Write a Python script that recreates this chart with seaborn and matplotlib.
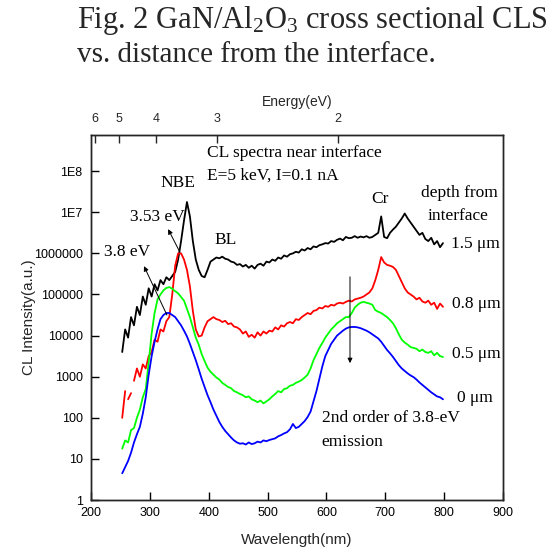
import numpy as np
import pandas as pd
import matplotlib
matplotlib.use("Agg")
import matplotlib.pyplot as plt
import seaborn as sns

# Wavelength grid of the recorded spectra (nm)
wavelength_nm = np.arange(253, 800, 5)

# log10 of CL intensity (a.u.) for each depth from the GaN/Al2O3 interface
log10_cl_1p5um = [
    3.6, 4.15, 3.95, 4.45, 4.25, 4.7, 4.5, 4.95, 4.75, 5.15,
    4.95, 5.25, 5.1, 5.35, 5.25, 5.42, 5.35, 5.45, 5.55, 5.85,
    6.3, 6.8, 7.25, 6.9, 6.3, 5.85, 5.6, 5.45, 5.42, 5.6,
    5.8, 5.85, 5.9, 5.88, 5.92, 5.87, 5.85, 5.8, 5.78, 5.72,
    5.74, 5.68, 5.72, 5.65, 5.7, 5.63, 5.72, 5.75, 5.7, 5.8,
    5.78, 5.85, 5.82, 5.9, 5.87, 5.95, 5.92, 5.98, 6.0, 6.04,
    6.02, 6.1, 6.07, 6.13, 6.1, 6.17, 6.15, 6.2, 6.22, 6.25,
    6.24, 6.3, 6.28, 6.33, 6.36, 6.32, 6.4, 6.37, 6.38, 6.42,
    6.38, 6.41, 6.39, 6.42, 6.38, 6.4, 6.45, 6.5, 6.9, 6.4,
    6.37, 6.5, 6.58, 6.65, 6.75, 6.85, 6.97, 6.85, 6.75, 6.65,
    6.55, 6.45, 6.5, 6.35, 6.3, 6.38, 6.22, 6.3, 6.15, 6.25,
]
log10_cl_0p8um = [
    2.0, 2.65, 2.45, 2.6, 2.9, 3.2, 3.0, 3.3, 3.2, 3.5,
    3.6, 3.9, 3.85, 4.15, 4.1, 4.35, 4.45, 5.0, 5.7, 6.0,
    6.0, 5.85, 5.6, 5.2, 4.6, 4.15, 3.98, 4.0, 4.2, 4.35,
    4.4, 4.45, 4.4, 4.38, 4.33, 4.36, 4.28, 4.3, 4.22, 4.2,
    4.15, 4.05, 4.1, 3.97, 4.02, 3.95, 4.08, 4.0, 4.1, 4.05,
    4.12, 4.1, 4.2, 4.15, 4.25, 4.22, 4.3, 4.33, 4.3, 4.4,
    4.38, 4.45, 4.5, 4.55, 4.52, 4.6, 4.62, 4.68, 4.66, 4.72,
    4.7, 4.75, 4.73, 4.78, 4.8, 4.78, 4.82, 4.85, 4.83, 4.88,
    4.9, 4.92, 4.95, 5.0, 5.05, 5.15, 5.35, 5.6, 5.91, 5.78,
    5.72, 5.7, 5.67, 5.6, 5.45, 5.3, 5.15, 5.05, 5.0, 4.95,
    4.88, 4.92, 4.83, 4.8, 4.85, 4.75, 4.8, 4.65, 4.78, 4.7,
]
log10_cl_0p5um = [
    1.25, 1.45, 1.4, 1.7, 1.75, 2.0, 2.2, 2.5, 2.7, 3.35,
    4.05, 4.55, 4.88, 5.0, 5.1, 5.16, 5.18, 5.14, 5.08, 5.03,
    4.94, 4.85, 4.65, 4.45, 4.2, 3.95, 3.78, 3.55, 3.38, 3.22,
    3.12, 3.05, 2.98, 2.93, 2.85, 2.8, 2.75, 2.72, 2.65, 2.62,
    2.58, 2.55, 2.5, 2.52, 2.45, 2.42, 2.38, 2.42, 2.35, 2.4,
    2.45, 2.52, 2.58, 2.65, 2.62, 2.7, 2.72, 2.78, 2.8, 2.85,
    2.88, 2.92, 2.98, 3.05, 3.2, 3.4, 3.55, 3.7, 3.82, 3.95,
    4.05, 4.15, 4.22, 4.3, 4.35, 4.4, 4.45, 4.45, 4.55, 4.68,
    4.75, 4.8, 4.82, 4.8, 4.78, 4.75, 4.62, 4.58, 4.55, 4.5,
    4.45, 4.38, 4.3, 4.18, 4.03, 3.9, 3.83, 3.78, 3.72, 3.7,
    3.68, 3.62, 3.66, 3.6, 3.58, 3.62, 3.52, 3.58, 3.5, 3.48,
]
log10_cl_0um = [
    0.65, 0.8, 0.95, 1.15, 1.4, 1.6, 1.78, 2.1, 2.5, 3.05,
    3.5, 3.85, 4.15, 4.4, 4.5, 4.55, 4.55, 4.5, 4.45, 4.35,
    4.25, 4.12, 3.98, 3.8, 3.6, 3.4, 3.18, 2.95, 2.75, 2.55,
    2.38, 2.2, 2.05, 1.9, 1.78, 1.68, 1.6, 1.52, 1.45, 1.4,
    1.37, 1.38, 1.35, 1.4, 1.36, 1.38, 1.42, 1.4, 1.45, 1.43,
    1.46, 1.48, 1.5, 1.55, 1.58, 1.62, 1.65, 1.72, 1.85, 1.75,
    1.78, 1.85, 1.92, 2.02, 2.15, 2.4, 2.65, 2.95, 3.25, 3.5,
    3.65, 3.8, 3.9, 4.0, 4.06, 4.12, 4.17, 4.2, 4.21, 4.21,
    4.2, 4.18, 4.15, 4.12, 4.08, 4.03, 3.98, 3.93, 3.85, 3.75,
    3.65, 3.57, 3.48, 3.38, 3.28, 3.2, 3.14, 3.08, 3.03, 2.99,
    2.93, 2.86, 2.8, 2.74, 2.68, 2.62, 2.57, 2.52, 2.5, 2.45,
]

depth_labels = ["1.5 \u03bcm", "0.8 \u03bcm", "0.5 \u03bcm", "0 \u03bcm"]
depth_colors = ["#000000", "#ff0000", "#00ff00", "#0000ff"]
# missing readings split the 0.8 um trace near the short-wavelength end (nm)
red_gaps_nm = [260, 270]

energy_ticks_ev = [6, 5, 4, 3, 2]
intensity_ticks = [1, 10, 100, 1000, 10000, 100000, 1000000, 1e7, 1e8]
intensity_tick_labels = ["1", "10", "100", "1000", "10000", "100000",
                         "1000000", "1E7", "1E8"]

# ---------------------------------------------------------------- data frame
frames = []
for label, logs in zip(depth_labels,
                       [log10_cl_1p5um, log10_cl_0p8um,
                        log10_cl_0p5um, log10_cl_0um]):
    seg = np.zeros(len(wavelength_nm), dtype=int)
    if label.startswith("0.8"):
        seg = np.searchsorted(red_gaps_nm, wavelength_nm)
    frames.append(pd.DataFrame({
        "wavelength": wavelength_nm,
        "intensity": 10 ** np.asarray(logs),
        "depth": label,
        "segment": seg,
    }))
spectra = pd.DataFrame(pd.concat(frames, ignore_index=True))

# ---------------------------------------------------------------- styling
sns.set_style("ticks")
plt.rcParams["font.family"] = ["Liberation Sans", "DejaVu Sans"]
plt.rcParams["mathtext.fontset"] = "custom"
plt.rcParams["mathtext.rm"] = "Liberation Serif"
plt.rcParams["mathtext.it"] = "Liberation Serif:italic"
serif = ["Liberation Serif", "DejaVu Serif"]

fig = plt.figure(figsize=(5.57, 5.52), dpi=100)
ax = fig.add_axes([0.1634, 0.0942, 0.7397, 0.6612])

sns.lineplot(data=spectra, x="wavelength", y="intensity", hue="depth",
             units="segment", estimator=None, sort=False,
             palette=dict(zip(depth_labels, depth_colors)),
             hue_order=depth_labels, linewidth=1.3, legend=False, ax=ax)

ax.set_yscale("log")
ax.set_xlim(200, 900)
ax.set_ylim(1, 10 ** 8.88)
ax.set_xticks(range(200, 901, 100))
ax.set_yticks(intensity_ticks)
ax.set_yticklabels(intensity_tick_labels)
ax.yaxis.set_minor_locator(matplotlib.ticker.NullLocator())
ax.tick_params(axis="both", direction="in", length=6, width=1.0,
               labelsize=9, colors="black")
ax.tick_params(axis="x", pad=5)
ax.tick_params(axis="y", pad=6)
for s in ax.spines.values():
    s.set_linewidth(1.0)
    s.set_color("black")
ax.set_xlabel("Wavelength(nm)", fontsize=11, labelpad=10)
ax.set_ylabel("CL Intensity(a.u.)", fontsize=11, labelpad=-2)

# photon-energy scale along the top
ax_top = ax.twiny()
ax_top.set_xlim(ax.get_xlim())
ax_top.set_xticks([1240.0 / e for e in energy_ticks_ev])
ax_top.set_xticklabels([str(e) for e in energy_ticks_ev])
ax_top.tick_params(axis="x", direction="in", length=6, width=1.0,
                   labelsize=9, pad=7)
ax_top.set_xlabel("Energy(eV)", fontsize=10, labelpad=5)
for s in ax_top.spines.values():
    s.set_linewidth(1.0)

# ---------------------------------------------------------------- annotations
txt = dict(family=serif, fontsize=12.5, color="black")
ax.text(397, 2.75e8, "CL spectra near interface", ha="left", va="center", **txt)
ax.text(397, 7.6e7, "E=5 keV, I=0.1 nA", ha="left", va="center", **txt)
ax.text(348, 5.1e7, "NBE", ha="center", va="center", **txt)
ax.text(266, 7.7e6, "3.53 eV", ha="left", va="center", **txt)
ax.text(222, 1.07e6, "3.8 eV", ha="left", va="center", **txt)
ax.text(429, 2.1e6, "BL", ha="center", va="center", **txt)
ax.text(691, 2.1e7, "Cr", ha="center", va="center", **txt)
ax.text(826, 2.95e7, "depth from", ha="center", va="center", clip_on=False, **txt)
ax.text(824, 8.1e6, "interface", ha="center", va="center", clip_on=False, **txt)
for label, ypos, xpos in zip(depth_labels, [1.7e6, 5.9e4, 3.5e3, 3.0e2],
                             [811, 813, 813, 821]):
    ax.text(xpos, ypos, label, ha="left", va="center", **txt)
ax.text(592, 100, "2nd order of 3.8-eV", ha="left", va="center", **txt)
ax.text(592, 25.7, "emission", ha="left", va="center", **txt)

arrow = dict(arrowstyle="-|>", color="black", lw=0.7, mutation_scale=7,
             shrinkA=0, shrinkB=0)
ax.annotate("", xy=(331, 10 ** 6.59), xytext=(351, 10 ** 6.03), arrowprops=arrow)
ax.annotate("", xy=(290, 10 ** 5.69), xytext=(329, 10 ** 4.5), arrowprops=arrow)
ax.annotate("", xy=(640, 10 ** 3.33), xytext=(640, 10 ** 5.43), arrowprops=arrow)

# caption above the plot
fig.text(0.138, 0.949, "Fig. 2 GaN/Al$_2$O$_3$ cross sectional CLS",
         family=serif, fontsize=22, va="baseline", ha="left")
fig.text(0.138, 0.888, "vs. distance from the interface.",
         family=serif, fontsize=21, va="baseline", ha="left")

fig.savefig("out.png", dpi=100)
